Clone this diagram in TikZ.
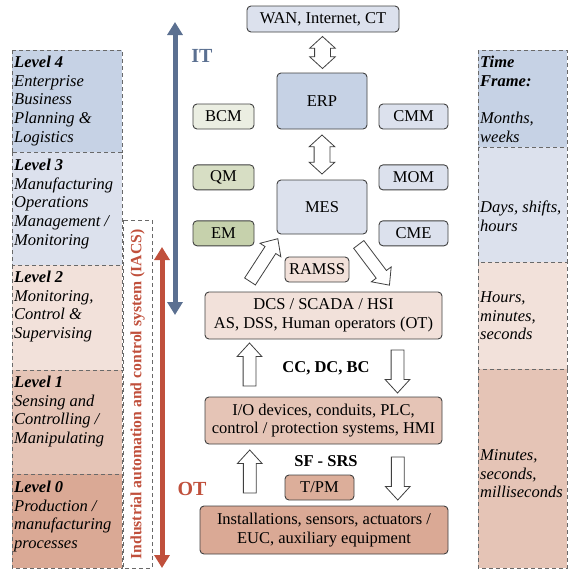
\documentclass[tikz,border=0pt]{standalone}
\usepackage{fontspec}
\setmainfont{Liberation Serif}
\usetikzlibrary{shapes,arrows}
\usetikzlibrary{positioning}
\usetikzlibrary{arrows.meta}
\usetikzlibrary{calc}

\newcommand{\fsz}{\fontsize{16.5}{18.6}\selectfont}

\definecolor{lineg}{RGB}{64,64,64}
\definecolor{dashg}{RGB}{105,105,105}
\definecolor{itblue}{RGB}{91,112,145}
\definecolor{otred}{RGB}{192,80,60}
\definecolor{lvlfour}{RGB}{198,210,229}
\definecolor{lvlthree}{RGB}{220,225,237}
\definecolor{lvltwo}{RGB}{242,225,218}
\definecolor{lvlone}{RGB}{229,196,182}
\definecolor{lvlzero}{RGB}{218,169,149}
\definecolor{bcmgreen}{RGB}{235,238,226}
\definecolor{qmgreen}{RGB}{215,222,196}
\definecolor{emgreen}{RGB}{198,209,172}
\definecolor{tpmred}{RGB}{220,174,154}

\tikzset{
	box/.style={draw=lineg, rounded corners=4pt, line width=0.9pt, inner sep=0pt, align=center, font=\fsz},
	sidebox/.style={box, minimum height=25pt},
	levelbox/.style={draw=dashg, dash pattern=on 4pt off 3pt, line width=0.8pt},
	leveltext/.style={anchor=north west, inner sep=1pt, align=left, font=\fsz\itshape},
	uparrow/.style={single arrow, draw=lineg, fill=white, line width=0.8pt, inner sep=0pt,
		text height=6pt, text depth=6pt, minimum width=24pt, single arrow head extend=6pt, single arrow tip angle=85},
	bothways/.style={double arrow, draw=lineg, fill=white, line width=0.8pt, inner sep=0pt,
		text height=7.5pt, text depth=7.5pt, minimum width=25pt, double arrow head extend=5pt, double arrow tip angle=95, rotate=90},
	bigarrow/.style={line width=5pt, {Triangle[width=15pt,length=13pt]}-{Triangle[width=15pt,length=13pt]}},
	buslabel/.style={font=\fsz\bfseries, inner sep=1pt}
}

\begin{document}
\begin{tikzpicture}[x=1pt, y=-1pt]
	\useasboundingbox (0,0) rectangle (568,571);

	% levels
	\draw[levelbox, fill=lvlfour]  (12,50)  rectangle (122,152);
	\draw[levelbox, fill=lvlthree] (12,152) rectangle (122,265);
	\draw[levelbox, fill=lvltwo]   (12,265) rectangle (122,370);
	\draw[levelbox, fill=lvlone]   (12,370) rectangle (122,474);
	\draw[levelbox, fill=lvlzero]  (12,474) rectangle (122,568);
	\node[leveltext] (lvlfourtxt)  at (13,55)  {\textbf{Level 4}\\Enterprise\\Business\\Planning \&\\Logistics};
	\node[leveltext] (lvlthreetxt) at (13,158) {\textbf{Level 3}\\Manufacturing\\Operations\\Management /\\Monitoring};
	\node[leveltext] (lvltwotxt)   at (13,270) {\textbf{Level 2}\\Monitoring,\\Control \&\\Supervising};
	\node[leveltext] (lvlonetxt)   at (13,375) {\textbf{Level 1}\\Sensing and\\Controlling /\\Manipulating};
	\node[leveltext] (lvlzerotxt)  at (13,480) {\textbf{Level 0}\\Production /\\manufacturing\\processes};

	% time frames
	\draw[levelbox, fill=lvlfour]  (478,50)  rectangle (567,147);
	\draw[levelbox, fill=lvlthree] (478,147) rectangle (567,262);
	\draw[levelbox, fill=lvltwo]   (478,262) rectangle (567,369);
	\draw[levelbox, fill=lvlone]   (478,369) rectangle (567,568);
	\node[leveltext] (tfhead) at (479,55) {\textbf{Time}\\\textbf{Frame:}\\[18.6pt]Months,\\weeks};
	\node[leveltext, anchor=west] (tfdays)  at (479,216) {Days, shifts,\\hours};
	\node[leveltext, anchor=west] (tfhours) at (479,316) {Hours,\\minutes,\\seconds};
	\node[leveltext, anchor=west] (tfmins)  at (479,474) {Minutes,\\seconds,\\milliseconds};

	% IACS
	\draw[levelbox] (123,220) rectangle (152,568);
	\node[rotate=90, text=otred, font=\fontsize{15.7}{18}\selectfont\bfseries] (iacs) at (137.5,394.5) {Industrial automation and control system (IACS)};

	% IT / OT
	\coordinate (ittop) at (175,22);
	\coordinate (itbot) at (175,315);
	\coordinate (ottop) at (162,247);
	\coordinate (otbot) at (162,568);
	\draw[bigarrow, itblue] (ittop) -- (itbot);
	\draw[bigarrow, otred] (ottop) -- (otbot);
	\node[text=itblue, font=\fontsize{20}{22}\selectfont\bfseries] (itlbl) at (202,56) {IT};
	\node[text=otred, font=\fontsize{20}{22}\selectfont\bfseries] (otlbl) at (192,489) {OT};

	% IT side
	\node[box, fill=lvlthree, minimum width=152pt, minimum height=26pt] (wan) at (323,19) {WAN, Internet, CT};
	\node[box, fill=lvlfour, minimum width=90pt, minimum height=56pt] (erp) at (322,101) {ERP};
	\node[box, fill=lvlthree, minimum width=90pt, minimum height=54pt] (mes) at (322,207) {MES};
	\node[sidebox, fill=bcmgreen, minimum width=61pt] (bcm) at (223.5,116.5) {BCM};
	\node[sidebox, fill=qmgreen, minimum width=61pt, below=35pt of bcm] (qm) {QM};
	\node[sidebox, fill=emgreen, minimum width=61pt, below=30pt of qm] (em) {EM};
	\node[sidebox, fill=lvlthree, minimum width=69pt] (cmm) at (413.5,116.5) {CMM};
	\node[sidebox, fill=lvlthree, minimum width=69pt, below=35pt of cmm] (mom) {MOM};
	\node[sidebox, fill=lvlthree, minimum width=69pt, below=30pt of mom] (cme) {CME};
	\node[bothways, minimum height=32pt] (wanerp) at ($(wan.south)!0.5!(erp.north)$) {};
	\node[bothways, minimum height=39pt] (erpmes) at ($(erp.south)!0.5!(mes.north)$) {};

	% OT side
	\node[sidebox, fill=lvltwo, minimum width=64pt] (ramss) at (317,269.5) {RAMSS};
	\node[box, fill=lvltwo, minimum width=237pt, minimum height=47pt] (dcs) at (323.5,315.5) {DCS / SCADA / HSI\\AS, DSS, Human operators (OT)};
	\node[box, fill=lvlone, minimum width=237pt, minimum height=47pt] (io) at (323.5,420.5) {I/O devices, conduits, PLC,\\control / protection systems, HMI};
	\node[sidebox, fill=tpmred, minimum width=69pt] (tpm) at (319.5,487.5) {T/PM};
	\node[box, fill=lvlzero, minimum width=248pt, minimum height=48pt] (inst) at (324,530) {Installations, sensors, actuators /\\EUC, auxiliary equipment};
	\node[buslabel] (ccdcbc) at (326,368) {CC, DC, BC};
	\node[buslabel] (sfsrs) at (326,461) {SF - SRS};

	\node[uparrow, minimum height=51pt, rotate=57] (dcsup) at (262,263) {};
	\node[uparrow, minimum height=51pt, rotate=-53] (mesdown) at (372,262) {};
	\node[uparrow, minimum height=43pt, rotate=90] (ioup) at ($(dcs.south)!0.5!(io.north)+(-74pt,0pt)$) {};
	\node[uparrow, minimum height=43pt, rotate=-90] (dcsdown) at ($(dcs.south)!0.5!(io.north)+(74pt,0pt)$) {};
	\node[uparrow, minimum height=43pt, rotate=90] (instup) at ($(io.south)!0.5!(inst.north)+(-74pt,0pt)$) {};
	\node[uparrow, minimum height=43pt, rotate=-90] (iodown) at ($(io.south)!0.5!(inst.north)+(74pt,0pt)$) {};
\end{tikzpicture}
\end{document}
